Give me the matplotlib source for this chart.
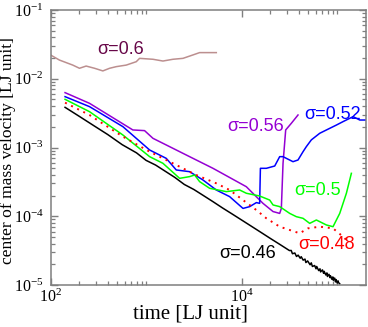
import matplotlib
matplotlib.use("Agg")
import matplotlib.pyplot as plt
from matplotlib.ticker import LogLocator, NullFormatter, FixedLocator

plt.rcParams['font.family'] = ['Liberation Serif', 'DejaVu Serif']
plt.rcParams['mathtext.fontset'] = 'custom'
plt.rcParams['mathtext.rm'] = 'Liberation Serif'
plt.rcParams['mathtext.it'] = 'Liberation Serif:italic'
plt.rcParams['axes.unicode_minus'] = False

# ---- data (time [LJ], centre-of-mass velocity [LJ]) ----
t_060 = [100, 124, 171, 201, 236, 289, 353, 415, 488, 620, 789, 855, 1180, 1501,
         1910, 2432, 3093, 3631, 4266, 5430]
v_060 = [2.22e-2, 1.87e-2, 1.58e-2, 1.42e-2, 1.53e-2, 1.42e-2, 1.30e-2, 1.42e-2,
         1.50e-2, 1.58e-2, 1.77e-2, 1.98e-2, 1.92e-2, 1.81e-2, 1.92e-2, 1.98e-2,
         2.22e-2, 2.40e-2, 2.40e-2, 2.40e-2]

t_056 = [142, 256, 727, 964, 1180, 1910, 2853, 5012, 11190, 16720, 21300, 25000,
         26020, 27100, 28890, 33110, 38870]
v_056 = [6.28e-3, 4.39e-3, 1.80e-3, 1.76e-3, 1.36e-3, 9.73e-4, 7.36e-4, 4.98e-4,
         2.69e-4, 1.54e-4, 1.17e-4, 1.10e-4, 1.30e-4, 5.89e-4, 1.80e-3, 2.25e-3,
         2.97e-3]

t_052 = [142, 256, 572, 1089, 1626, 2070, 2853, 3936, 5430, 7482, 10330, 12130,
         14260, 15430, 15710, 18130, 22180, 25000, 27100, 29370, 34450, 38870,
         43880, 47530, 53580, 65610, 77120, 97960, 115100, 146500, 172200, 200000]
v_052 = [5.49e-3, 3.93e-3, 2.01e-3, 9.20e-4, 6.95e-4, 4.71e-4, 4.45e-4, 3.37e-4,
         2.41e-4, 1.93e-4, 1.30e-4, 1.38e-4, 1.58e-4, 1.54e-4, 4.98e-4, 4.98e-4,
         5.38e-4, 7.36e-4, 7.36e-4, 6.95e-4, 6.22e-4, 6.58e-4, 8.69e-4, 1.03e-3,
         1.29e-3, 1.61e-3, 1.80e-3, 2.12e-3, 2.38e-3, 2.81e-3, 2.51e-3, 2.51e-3]

t_050 = [142, 256, 572, 1089, 1501, 2244, 2853, 3222, 3631, 4624, 6903, 9528,
         11190, 15430, 19650, 21300, 25000, 31840, 37330, 43880, 51520, 60510,
         77120, 90360, 106200, 124700, 140600]
v_050 = [5.02e-3, 3.32e-3, 1.52e-3, 7.36e-4, 5.89e-4, 3.56e-4, 3.77e-4, 3.98e-4,
         3.19e-4, 2.55e-4, 2.28e-4, 2.41e-4, 2.16e-4, 1.97e-4, 1.72e-4, 1.46e-4,
         1.38e-4, 1.10e-4, 9.86e-5, 9.33e-5, 7.88e-5, 8.82e-5, 7.46e-5, 7.05e-5,
         1.10e-4, 2.16e-4, 4.21e-4]

t_048 = [142, 256, 572, 1089, 2244, 3351, 5430, 7482, 10330, 14260, 18130, 25000,
         40460, 49430, 65610, 90360, 115100, 129700]
v_048 = [4.49e-3, 2.97e-3, 1.44e-3, 8.69e-4, 5.26e-4, 3.98e-4, 3.01e-4, 2.41e-4,
         1.72e-4, 1.23e-4, 9.33e-5, 7.05e-5, 5.65e-5, 6.67e-5, 7.05e-5, 6.67e-5,
         5.04e-5, 4.27e-5]

t_046 = [142, 200, 282, 398, 562, 794, 1000, 1259, 1585, 1995, 2512, 3162, 3981,
         5012, 6310, 7943, 10000, 12590, 15850, 19950, 25120, 31620,
         33000, 34000, 36000, 37500, 39000, 41000, 42000, 44000, 46000, 47000,
         49000, 52000, 53500, 55000, 58000, 60000, 61000, 64000, 66000, 67000,
         70000, 72000, 73000, 76000, 78000, 79000, 82000, 84000, 85000, 88000,
         90000, 91000, 94000, 96000, 97000, 100000, 102000, 103000, 106200]
v_046 = [3.84e-3, 2.84e-3, 2.09e-3, 1.54e-3, 1.10e-3, 8.36e-4, 6.50e-4, 5.55e-4,
         4.52e-4, 3.68e-4, 2.90e-4, 2.45e-4, 2.00e-4, 1.63e-4, 1.32e-4, 1.08e-4,
         8.81e-5, 7.18e-5, 5.85e-5, 4.76e-5, 3.89e-5, 3.17e-5,
         3.18e-5, 2.85e-5, 2.92e-5, 2.60e-5, 2.72e-5, 2.45e-5, 2.58e-5, 2.30e-5,
         2.38e-5, 2.12e-5, 2.24e-5, 1.97e-5, 2.10e-5, 1.86e-5, 1.92e-5, 1.72e-5,
         1.86e-5, 1.62e-5, 1.72e-5, 1.55e-5, 1.66e-5, 1.48e-5, 1.58e-5, 1.40e-5,
         1.50e-5, 1.33e-5, 1.43e-5, 1.28e-5, 1.36e-5, 1.21e-5, 1.31e-5, 1.17e-5,
         1.26e-5, 1.11e-5, 1.20e-5, 1.07e-5, 1.15e-5, 1.09e-5, 1.04e-5]

labels = ["σ=0.6", "σ=0.56", "σ=0.52", "σ=0.5", "σ=0.48", "σ=0.46"]
label_t = [310, 7130, 45700, 35900, 38900, 5890]
label_v = [2.62e-2, 1.99e-3, 2.97e-3, 2.36e-4, 3.82e-5, 2.89e-5]
label_colors = ["#670748", "#9400d3", "#0000ff", "#00ff00", "#ff0000", "#000000"]

x_major = [1e2, 1e4]
x_minor = [200, 300, 400, 500, 600, 700, 800, 900, 1000,
           2e4, 3e4, 4e4, 5e4, 6e4, 7e4, 8e4, 9e4, 1e5]

# ---- figure ----
fig = plt.figure(figsize=(3.68, 3.27), dpi=100)
ax = fig.add_axes([50.5 / 368, 42 / 327, 315.5 / 368, 275 / 327])
ax.set_xscale('log')
ax.set_yscale('log')
ax.set_xlim(100, 2e5)
ax.set_ylim(1e-5, 1e-1)

lw = 1.1
ax.plot(t_060, v_060, color='#bc8f8f', lw=lw)
ax.plot(t_056, v_056, color='#9400d3', lw=lw)
ax.plot(t_052, v_052, color='#0000ff', lw=lw)
ax.plot(t_050, v_050, color='#00ff00', lw=lw)
ax.plot(t_048, v_048, color='#ff0000', lw=1.4, linestyle=(0, (1, 2.5)))
ax.plot(t_046, v_046, color='#000000', lw=lw)

for s, tx, vy, c in zip(labels, label_t, label_v, label_colors):
    ax.text(tx, vy, s, color=c, fontsize=13, family=['Liberation Sans', 'DejaVu Sans'],
            ha='left', va='center')

frame_c = '#7f7f7f'
for sp in ax.spines.values():
    sp.set_color(frame_c)
    sp.set_linewidth(1.1)
ax.xaxis.set_major_locator(FixedLocator(x_major))
ax.xaxis.set_minor_locator(FixedLocator(x_minor))
ax.yaxis.set_major_locator(LogLocator(base=10, numticks=10))
ax.yaxis.set_minor_locator(LogLocator(base=10, subs=range(2, 10), numticks=20))
ax.xaxis.set_minor_formatter(NullFormatter())
ax.yaxis.set_minor_formatter(NullFormatter())
ax.tick_params(which='both', direction='in', top=True, right=True, color=frame_c,
               labelsize=11.5)
ax.tick_params(axis='y', pad=5)
ax.tick_params(axis='x', pad=3)
ax.tick_params(which='major', length=5, width=1.0)
ax.tick_params(which='minor', length=3, width=0.9)

ax.set_xlabel('time [LJ unit]', fontsize=15)
ax.set_ylabel('center of mass velocity [LJ unit]', fontsize=12.6)
ax.xaxis.set_label_coords(0.442, -0.07)
ax.yaxis.label.set_verticalalignment('center')
ax.yaxis.set_label_coords(-0.136, 0.49)

fig.savefig('out.png', dpi=100)
